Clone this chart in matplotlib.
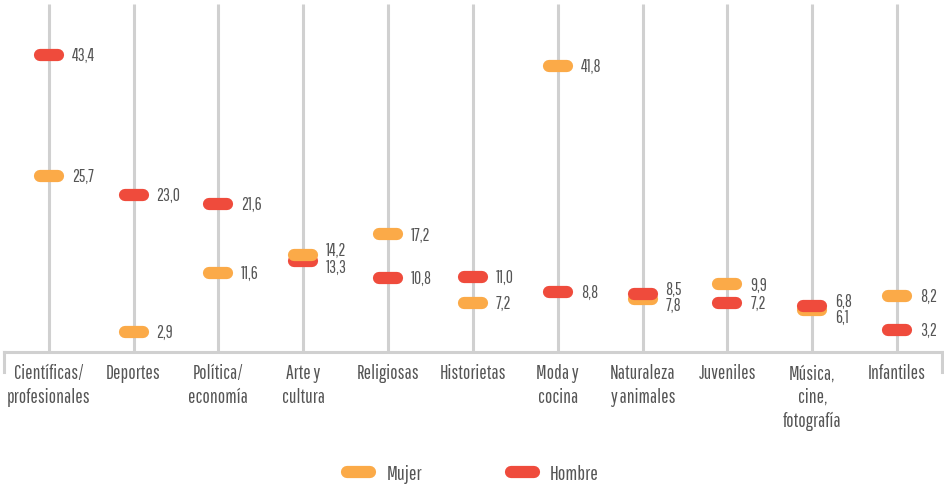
import matplotlib
matplotlib.use("Agg")
import matplotlib.pyplot as plt
from matplotlib.lines import Line2D

categories = ["Científicas/\nprofesionales", "Deportes", "Política/\neconomía", "Arte y\ncultura",
              "Religiosas", "Historietas", "Moda y\ncocina", "Naturaleza\ny animales",
              "Juveniles", "Música,\ncine,\nfotografía", "Infantiles"]
mujer = [25.7, 2.9, 11.6, 14.2, 17.2, 7.2, 41.8, 7.8, 9.9, 6.1, 8.2]
hombre = [43.4, 23.0, 21.6, 13.3, 10.8, 11.0, 8.8, 8.5, 7.2, 6.8, 3.2]

c_m = "#FBAA48"
c_h = "#EF4B3C"
grid_c = "#D0D0D0"
txt_c = "#555555"

plt.rcParams["font.family"] = ["Pathway Gothic One", "DejaVu Sans"]

fig = plt.figure(figsize=(9.44, 4.85), dpi=100)
ax = fig.add_axes([0.004, 0.272, 0.994, 0.718])
n = len(categories)
ax.set_xlim(-0.53, n - 1 + 0.53)
ax.set_ylim(0, 50.9)

for i in range(n):
    ax.plot([i, i], [0, 50.9], color=grid_c, lw=2.2, zorder=1, solid_capstyle="butt")

h = 0.106
for i, (m, hv) in enumerate(zip(mujer, hombre)):
    zm = 4 if m > hv else 3
    zh = 4 if hv >= m else 3
    ax.plot([i - h, i + h], [m, m], color=c_m, lw=8.8, solid_capstyle="round", zorder=zm)
    ax.plot([i - h, i + h], [hv, hv], color=c_h, lw=8.8, solid_capstyle="round", zorder=zh)
    close = abs(m - hv) < 2
    for v, other in ((m, hv), (hv, m)):
        dy = 0
        if close:
            dy = 3.5 if v > other else -4.5
        ax.annotate(f"{v:.1f}".replace(".", ","), (i, v), xytext=(16.5, dy),
                    textcoords="offset points", ha="left", va="center",
                    fontsize=12.5, color=txt_c)

for s in ["top", "right", "left"]:
    ax.spines[s].set_visible(False)
ax.spines["bottom"].set_color(grid_c)
ax.spines["bottom"].set_linewidth(2.2)
for xa in (0, 1):
    ax.add_line(Line2D([xa, xa], [0, -0.057], transform=ax.transAxes, color=grid_c,
                       lw=2.2, clip_on=False))

ax.set_xticks(range(n))
ax.set_xticklabels(categories, fontsize=14, color=txt_c, linespacing=1.32)
ax.tick_params(axis="x", length=0, pad=8)
ax.set_yticks([])

handles = [Line2D([], [], color=c_m, lw=8.8, solid_capstyle="round"),
           Line2D([], [], color=c_h, lw=8.8, solid_capstyle="round")]
leg = fig.legend(handles, ["Mujer", "Hombre"], loc="center", bbox_to_anchor=(0.501, 0.022),
                 ncol=2, frameon=False, handlelength=1.15, columnspacing=4.4,
                 handletextpad=0.8, fontsize=14.5)
for t in leg.get_texts():
    t.set_color(txt_c)

fig.savefig("out.png", dpi=100)
